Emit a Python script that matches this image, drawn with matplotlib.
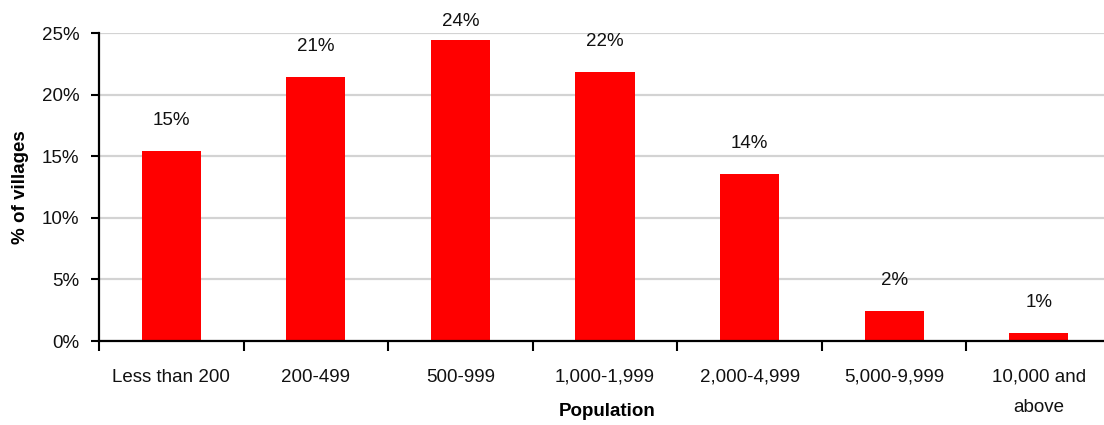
import matplotlib
matplotlib.use("Agg")
import matplotlib.pyplot as plt
from matplotlib.ticker import FixedLocator, FuncFormatter

# Share of villages by population size class (%)
categories = ["Less than 200", "200-499", "500-999", "1,000-1,999",
              "2,000-4,999", "5,000-9,999", "10,000 and\nabove"]
shares = [15.42, 21.43, 24.43, 21.83, 13.55, 2.44, 0.65]
y_ticks = [0, 5, 10, 15, 20, 25]

plt.rcParams["font.family"] = ["Liberation Sans", "DejaVu Sans"]

fig = plt.figure(figsize=(11.04, 4.25), dpi=100)
ax = fig.add_axes([99 / 1104, 84 / 425, 1012 / 1104, 308 / 425])

x = list(range(len(categories)))
ax.bar(x, shares, width=0.41, color="#ff0000", zorder=3)

# value labels above each bar
for xi, v in zip(x, shares):
    y_lab = min(v + 2.5, 25.9)
    ax.text(xi, y_lab, f"{round(v):d}%", ha="center", va="center",
            fontsize=13.5, color="#111111", zorder=4)

ax.set_xlim(-0.5, len(categories) - 0.5)
ax.set_ylim(0, 25)

# y axis
ax.yaxis.set_major_locator(FixedLocator(y_ticks))
ax.yaxis.set_major_formatter(FuncFormatter(lambda v, p: f"{v:.0f}%"))
ax.tick_params(axis="y", which="major", direction="out", length=6,
               width=1.5, pad=8, labelsize=13.5, labelcolor="#111111")
ax.grid(axis="y", color="#d3d3d3", linewidth=1.6, zorder=0)

# x axis: ticks between categories, labels centred on bars
ax.xaxis.set_major_locator(FixedLocator([i - 0.5 for i in range(len(categories) + 1)]))
ax.xaxis.set_major_formatter(FuncFormatter(lambda v, p: ""))
ax.xaxis.set_minor_locator(FixedLocator(x))
ax.set_xticklabels(categories, minor=True)
ax.tick_params(axis="x", which="major", direction="out", length=7, width=1.5)
ax.tick_params(axis="x", which="minor", length=0, pad=20, labelsize=13.5,
               labelcolor="#111111")
for lbl in ax.xaxis.get_minorticklabels():
    lbl.set_linespacing(2.05)
    lbl.set_verticalalignment("top")

for side in ("top", "right"):
    ax.spines[side].set_visible(False)
for side in ("left", "bottom"):
    ax.spines[side].set_linewidth(1.6)
    ax.spines[side].set_color("#000000")
    ax.spines[side].set_zorder(5)

ax.set_xlabel("Population", fontsize=13.5, fontweight="bold", va="center")
ax.xaxis.set_label_coords((607 - 99) / 1012, -70 / 308)
ax.set_ylabel("% of villages", fontsize=13.5, fontweight="bold", va="center")
ax.yaxis.set_label_coords(-79 / 1012, 0.5)

fig.savefig("out.png", dpi=100)
